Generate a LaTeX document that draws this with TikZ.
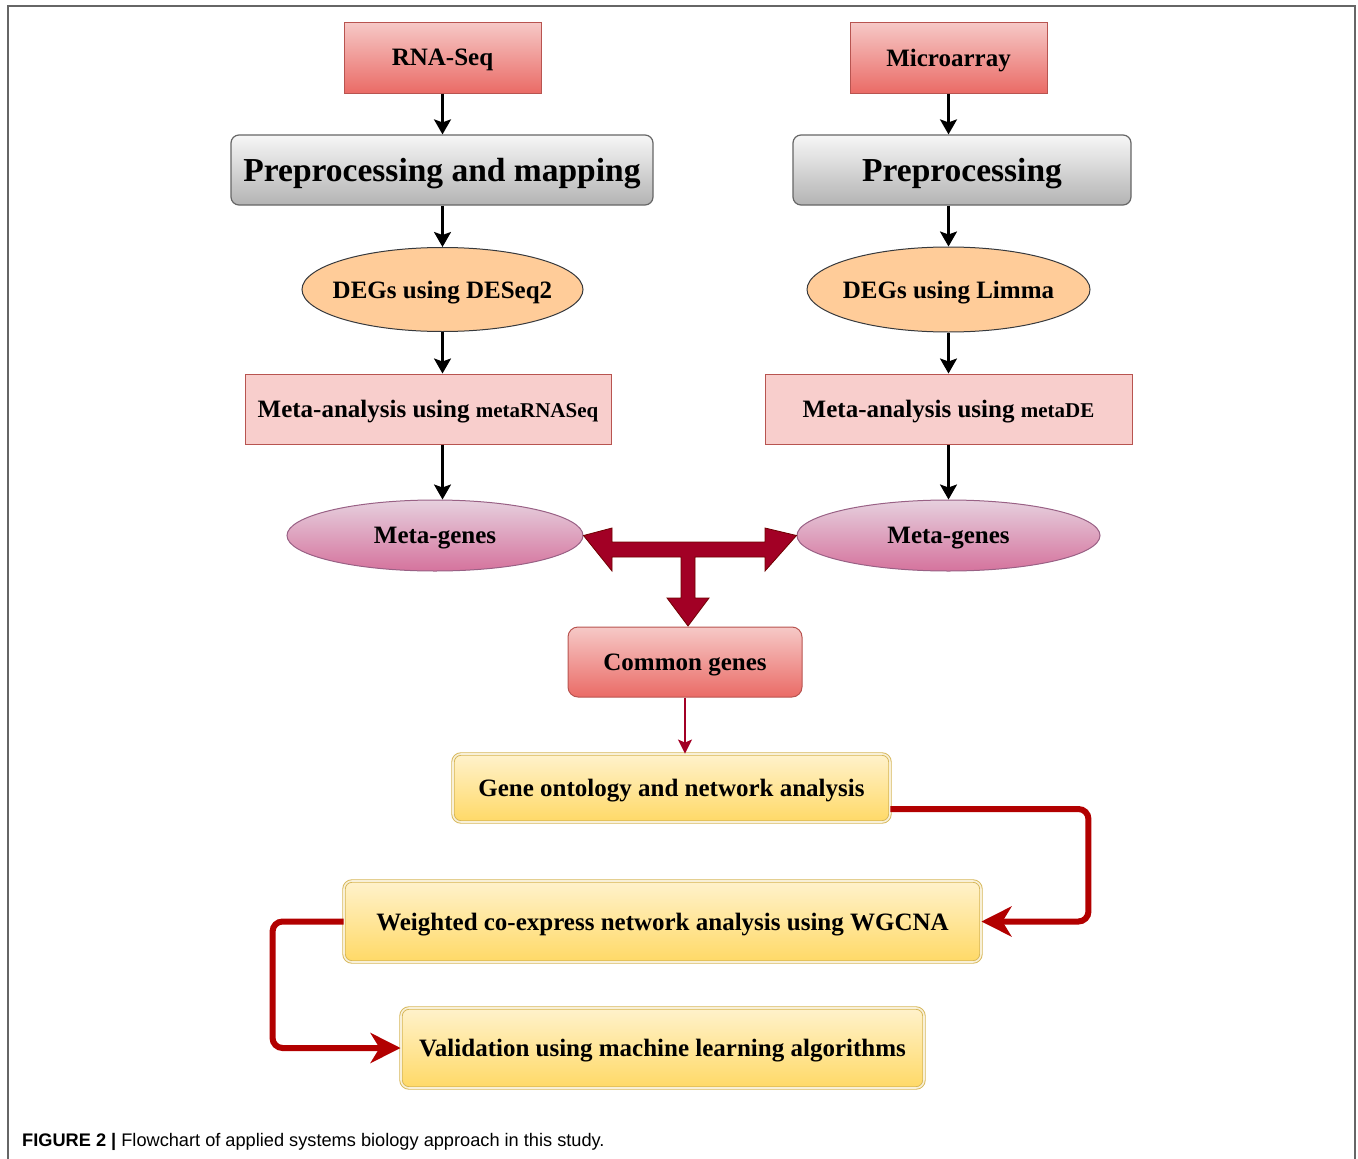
\documentclass[tikz,border=0pt]{standalone}
\usepackage{fontspec}
\setmainfont{Liberation Serif}
\newfontfamily\capfont{Liberation Sans}
\usetikzlibrary{arrows.meta,shapes.geometric}
\definecolor{redTop}{HTML}{F6C9C7}
\definecolor{redBot}{HTML}{EA6B66}
\definecolor{redDraw}{HTML}{B85450}
\definecolor{grayTop}{HTML}{F7F7F7}
\definecolor{grayBot}{HTML}{B3B3B3}
\definecolor{grayDraw}{HTML}{666666}
\definecolor{orangeFill}{HTML}{FFCC99}
\definecolor{orangeDraw}{HTML}{36393D}
\definecolor{pinkFill}{HTML}{F8CECC}
\definecolor{mgTop}{HTML}{E6D0DE}
\definecolor{mgBot}{HTML}{D5739D}
\definecolor{mgDraw}{HTML}{996185}
\definecolor{yelTop}{HTML}{FFF2CC}
\definecolor{yelBot}{HTML}{FFD966}
\definecolor{yelDraw}{HTML}{D6B656}
\definecolor{tRed}{HTML}{A20025}
\definecolor{tRedDraw}{HTML}{6F0000}
\definecolor{connRed}{HTML}{B20000}
\definecolor{frameGray}{HTML}{666666}
\begin{document}
\begin{tikzpicture}[x=1pt,y=-1pt,
  lbl/.style={font=\bfseries\fontsize{25}{30}\selectfont, inner sep=0pt, text depth=0pt, align=center},
  redbox/.style={lbl, draw=redDraw, line width=1pt, top color=redTop, bottom color=redBot, rectangle},
  graybox/.style={draw=grayDraw, line width=1.2pt, top color=grayTop, bottom color=grayBot, rectangle, rounded corners=8pt, inner sep=0pt, text depth=0pt, font=\bfseries\fontsize{33.5}{40}\selectfont},
  orangeell/.style={ellipse, inner sep=0pt, draw=orangeDraw, line width=1pt, fill=orangeFill},
  pinkbox/.style={lbl, rectangle, draw=redDraw, line width=1pt, fill=pinkFill},
  mgell/.style={ellipse, inner sep=0pt, draw=mgDraw, line width=1pt, top color=mgTop, bottom color=mgBot},
  yelbox/.style={lbl, rectangle, rounded corners=8pt, draw=yelDraw, line width=0.9pt, double=yelTop!60!yelDraw!40, double distance=1.6pt, top color=yelTop, bottom color=yelBot},
  blackarrow/.style={line width=2.4pt, -{Stealth[length=15pt,width=17pt,inset=3pt]}},
  redconn/.style={line width=6pt, connRed, rounded corners=10pt, -{Stealth[length=30pt,width=30pt,inset=9pt]}}
]
\useasboundingbox (0,0) rectangle (1358,1159);
% frame
\draw[line width=1.5pt, frameGray] (8,1159) -- (8,6) -- (1355,6) -- (1355,1159);

% left column
\node[redbox, minimum width=197pt, minimum height=71pt] (rna) at (442.5,57.5) {RNA-Seq};
\node[graybox, minimum width=422pt, minimum height=70pt] (pre1) at (442,170) {Preprocessing and mapping};
\node[orangeell, minimum width=281pt, minimum height=84pt, label={[lbl]center:DEGs using DESeq2}] (deg1) at (442.5,289.5) {};
\node[pinkbox, minimum width=366pt, minimum height=70pt] (meta1) at (428,409) {Meta-analysis using {\fontsize{21}{25}\selectfont metaRNASeq}};
\node[mgell, minimum width=296pt, minimum height=71pt, label={[lbl]center:Meta-genes}] (mg1) at (435,535.5) {};

% right column
\node[redbox, minimum width=197pt, minimum height=71pt] (micro) at (948.5,57.5) {Microarray};
\node[graybox, minimum width=338pt, minimum height=70pt] (pre2) at (962,170) {Preprocessing};
\node[orangeell, minimum width=283pt, minimum height=85pt, label={[lbl]center:DEGs using Limma}] (deg2) at (948.5,289.5) {};
\node[pinkbox, minimum width=367pt, minimum height=70pt] (meta2) at (948.5,409) {Meta-analysis using {\fontsize{21}{25}\selectfont metaDE}};
\node[mgell, minimum width=303pt, minimum height=71pt, label={[lbl]center:Meta-genes}] (mg2) at (948.5,535.5) {};

% bottom part
\node[redbox, rounded corners=10pt, minimum width=234pt, minimum height=70pt] (common) at (685,662) {Common genes};
\node[yelbox, minimum width=437pt, minimum height=68pt] (go) at (671.5,788) {Gene ontology and network analysis};
\node[yelbox, minimum width=637pt, minimum height=81pt] (wg) at (662.5,921.5) {Weighted co-express network analysis using WGCNA};
\node[yelbox, minimum width=523pt, minimum height=80pt] (val) at (662.5,1048) {Validation using machine learning algorithms};

% black arrows left
\draw[blackarrow] (rna.south) -- (rna.south |- pre1.north);
\draw[blackarrow] (rna.south |- pre1.south) -- (deg1.north);
\draw[blackarrow] (deg1.south) -- (deg1.south |- meta1.north);
\draw[blackarrow] (deg1.south |- meta1.south) -- (deg1.south |- mg1.north);
% black arrows right
\draw[blackarrow] (micro.south) -- (micro.south |- pre2.north);
\draw[blackarrow] (micro.south |- pre2.south) -- (deg2.north);
\draw[blackarrow] (deg2.south) -- (meta2.north);
\draw[blackarrow] (meta2.south) -- (mg2.north);

% T-shaped double arrow
\filldraw[fill=tRed, draw=tRedDraw, line width=0.8pt, line join=miter]
  (mg1.east) -- (612,528) -- (612,542) -- (765,542) -- (765,528) -- (mg2.west)
  -- (765,571) -- (765,557) -- (695,557) -- (695,598) -- (709,598) -- (688,626)
  -- (667,598) -- (681,598) -- (681,557) -- (612,557) -- (612,571) -- cycle;

% thin arrow
\draw[line width=1.8pt, tRed, -{Stealth[length=14pt,width=14pt,inset=3pt]}] (common.south) -- (common.south |- go.north);

% red connectors
\draw[redconn] ([yshift=-21pt]go.east) -- ++(198,0) |- (wg.east);
\draw[redconn] (wg.west) -- ++(-71,0) |- (val.west);

% caption
\node[anchor=base west, inner sep=0pt, font=\capfont\fontsize{18.2}{22}\selectfont] (cap) at (22,1146) {\textbf{FIGURE 2 |} Flowchart of applied systems biology approach in this study.};
\end{tikzpicture}
\end{document}
